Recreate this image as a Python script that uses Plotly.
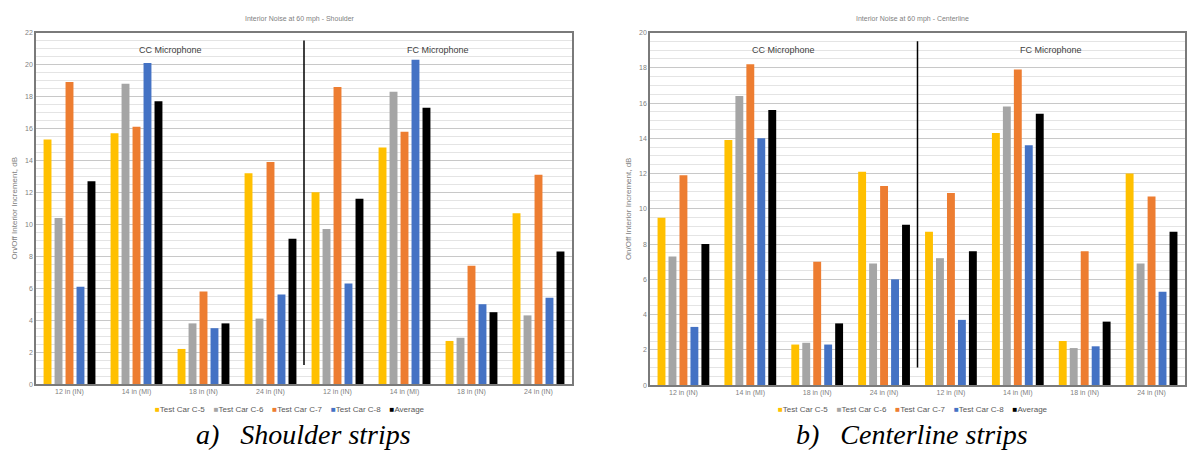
import plotly.graph_objects as go

# Category positions along each chart (CC microphone groups then FC microphone groups)
positions = ["12 in (IN)", "14 in (MI)", "18 in (IN)", "24 in (IN)",
             "12 in (IN)", "14 in (MI)", "18 in (IN)", "24 in (IN)"]

series_names = ["Test Car C-5", "Test Car C-6", "Test Car C-7", "Test Car C-8", "Average"]
series_colors = ["#FFC000", "#A5A5A5", "#ED7D31", "#4472C4", "#000000"]

# Shoulder strips: on/off interior increment, dB
shoulder_c5 = [15.3, 15.7, 2.2, 13.2, 12.0, 14.8, 2.7, 10.7]
shoulder_c6 = [10.4, 18.8, 3.8, 4.1, 9.7, 18.3, 2.9, 4.3]
shoulder_c7 = [18.9, 16.1, 5.8, 13.9, 18.6, 15.8, 7.4, 13.1]
shoulder_c8 = [6.1, 20.1, 3.5, 5.6, 6.3, 20.3, 5.0, 5.4]
shoulder_avg = [12.7, 17.7, 3.8, 9.1, 11.6, 17.3, 4.5, 8.3]

# Centerline strips: on/off interior increment, dB
center_c5 = [9.5, 13.9, 2.3, 12.1, 8.7, 14.3, 2.5, 12.0]
center_c6 = [7.3, 16.4, 2.4, 6.9, 7.2, 15.8, 2.1, 6.9]
center_c7 = [11.9, 18.2, 7.0, 11.3, 10.9, 17.9, 7.6, 10.7]
center_c8 = [3.3, 14.0, 2.3, 6.0, 3.7, 13.6, 2.2, 5.3]
center_avg = [8.0, 15.6, 3.5, 9.1, 7.6, 15.4, 3.6, 8.7]

shoulder = [shoulder_c5, shoulder_c6, shoulder_c7, shoulder_c8, shoulder_avg]
center = [center_c5, center_c6, center_c7, center_c8, center_avg]

x_idx = list(range(len(positions)))
W, H = 1187, 458

fig = go.Figure()

for name, color, vals in zip(series_names, series_colors, shoulder):
    fig.add_trace(go.Bar(x=x_idx, y=vals, name=name, marker_color=color,
                         marker_line_width=0, xaxis="x", yaxis="y"))
for name, color, vals in zip(series_names, series_colors, center):
    fig.add_trace(go.Bar(x=x_idx, y=vals, name=name, marker_color=color,
                         marker_line_width=0, xaxis="x2", yaxis="y2"))

tick_font = dict(family="Liberation Sans, Arial", size=7, color="#7f7f7f")
grid = dict(showgrid=True, gridcolor="#c8c8c8", gridwidth=1,
            minor=dict(dtick=0.5, showgrid=True, gridcolor="#e4e4e4", gridwidth=1))

xcommon = dict(tickmode="array", tickvals=x_idx, ticktext=positions,
               range=[-0.5, 7.5], showgrid=False, ticks="", tickfont=tick_font,
               showline=True, linecolor="#7a7a7a", linewidth=1.5, mirror=True, zeroline=False)
ycommon = dict(dtick=2, tickfont=tick_font, ticks="", showline=True, linecolor="#7a7a7a",
               linewidth=1.5, mirror=True, zeroline=False,
               title=dict(text="On/Off Interior Increment, dB",
                          font=dict(family="Liberation Sans, Arial", size=8, color="#7f7f7f"),
                          standoff=6), **grid)

fig.update_layout(
    width=W, height=H,
    margin=dict(l=0, r=0, t=0, b=0),
    paper_bgcolor="white", plot_bgcolor="white",
    barmode="group", bargap=0.18, bargroupgap=0.28,
    showlegend=False,
    xaxis=dict(domain=[36 / W, 572 / W], anchor="y", **xcommon),
    yaxis=dict(domain=[1 - 386 / H, 1 - 29 / H], range=[0, 22], anchor="x", **ycommon),
    xaxis2=dict(domain=[650 / W, 1185 / W], anchor="y2", **xcommon),
    yaxis2=dict(domain=[1 - 387 / H, 1 - 29 / H], range=[0, 20], anchor="x2", **ycommon),
)

# Divider between the CC and FC microphone halves
fig.add_shape(type="line", xref="x", yref="y", x0=3.5, x1=3.5, y0=1.2, y1=21.5,
              line=dict(color="black", width=1.5))
fig.add_shape(type="line", xref="x2", yref="y2", x0=3.5, x1=3.5, y0=1.0, y1=19.5,
              line=dict(color="black", width=1.5))

label_font = dict(family="Liberation Sans, Arial", size=9, color="#404040")
for xr, yr, yv in [("x", "y", 20.9), ("x2", "y2", 19.0)]:
    fig.add_annotation(x=1.5, y=yv, xref=xr, yref=yr, text="CC Microphone",
                       showarrow=False, font=label_font)
    fig.add_annotation(x=5.5, y=yv, xref=xr, yref=yr, text="FC Microphone",
                       showarrow=False, font=label_font)


def paper_text(x_px, y_px, text, font):
    fig.add_annotation(x=x_px / W, y=1 - y_px / H, xref="paper", yref="paper",
                       xanchor="center", yanchor="middle", text=text,
                       showarrow=False, font=font)


title_font = dict(family="Liberation Sans, Arial", size=7, color="#7f7f7f")
paper_text(300, 15, "Interior Noise at 60 mph - Shoulder", title_font)
paper_text(912, 15, "Interior Noise at 60 mph - Centerline", title_font)

# Series key below each chart: coloured square followed by the series name
sep = "\u00a0" * 4
key_text = sep.join(
    f"<span style='color:{c}'>\u25a0</span>{n}" for n, c in zip(series_names, series_colors)
)
key_font = dict(family="Liberation Sans, Arial", size=8, color="#595959")
paper_text(290, 412, key_text, key_font)
paper_text(913, 412, key_text, key_font)

cap_font = dict(family="'Liberation Serif', 'Times New Roman', serif", size=28,
                color="black", style="italic")
paper_text(304, 437, "a)\u00a0\u00a0\u00a0Shoulder strips", cap_font)
paper_text(912, 437, "b)\u00a0\u00a0\u00a0Centerline strips", cap_font)

fig.write_html("out.html")
